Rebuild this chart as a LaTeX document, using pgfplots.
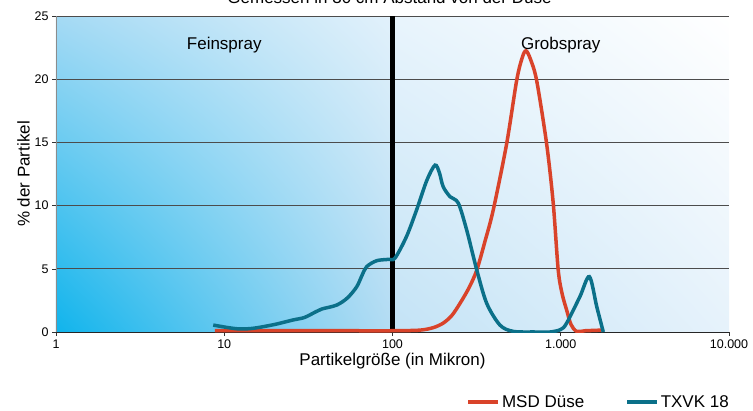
\documentclass[border=0pt]{standalone}
\usepackage{fontspec}
\setmainfont{Liberation Sans}
\usepackage{pgfplots}
\pgfplotsset{compat=1.18}
\usetikzlibrary{calc,shadings}
\definecolor{msdred}{HTML}{D9432A}
\definecolor{txvkblue}{HTML}{0B7089}
\begin{document}
\begin{tikzpicture}
\begin{axis}[
  name=ax, set layers,
  scale only axis, width=673pt, height=316pt,
  xmode=log, xmin=1, xmax=10000, ymin=0, ymax=25,
  xtick={1,10,100,1000,10000},
  xticklabels={1,10,100,{1.000},{10.000}},
  xminorticks=false,
  ytick={0,5,10,15,20,25},
  ymajorgrids, grid style={black!70, line width=0.8pt},
  axis x line*=bottom, axis y line*=left,
  x axis line style={-, black!85, line width=1pt},
  y axis line style={-, black!45, line width=0.6pt},
  tick align=outside, major tick length=4pt,
  tick style={black!80, line width=0.6pt},
  /pgf/number format/assume math mode=true,
  ticklabel style={font=\fontsize{12.5}{14}\selectfont},
  xlabel={Partikelgröße (in Mikron)},
  ylabel={\% der Partikel},
  label style={font=\fontsize{17}{19}\selectfont},
  xlabel style={yshift=2pt},
  ylabel style={yshift=-2pt},
  legend columns=2,
  legend style={draw=none, fill=none, at={(1,0)}, anchor=east, xshift=5pt, yshift=-70pt,
    font=\fontsize{17}{19}\selectfont, /tikz/every even column/.append style={column sep=39pt}},
  legend image code/.code={\draw[#1, line width=3.5pt] (0pt,0pt) -- (30pt,0pt);},
]
\begin{pgfonlayer}{axis background}
\shade[lower left={rgb,255:red,16;green,180;blue,236}, upper left={rgb,255:red,165;green,218;blue,244},
       lower right={rgb,255:red,180;green,220;blue,243}, upper right={rgb,255:red,226;green,241;blue,251}]
  (axis cs:1,0) rectangle (axis cs:100,25);
\shade[lower left={rgb,255:red,195;green,227;blue,246}, upper left={rgb,255:red,232;green,244;blue,252},
       lower right={rgb,255:red,230;green,242;blue,251}, upper right=white]
  (axis cs:100,0) rectangle (axis cs:10000,25);
\end{pgfonlayer}
\addplot[black, line width=5pt, forget plot] coordinates {(100,0) (100,25)};
\addplot[msdred, line width=3.5pt, smooth, tension=0.5] coordinates {
(8.8,0.1) (50,0.1) (100,0.1) (146,0.15) (175,0.35) (200,0.7) (225,1.3) (252,2.27)
(285,3.5) (317,4.9) (355,7.2) (397,9.65) (477,14.9) (547,19.9) (590,21.7) (621,22.25)
(660,21.6) (719,19.9) (824,14.9) (902,10.2) (966,4.9) (1020,3) (1084,1.74) (1150,0.6)
(1242,0.05) (1400,0.1) (1750,0.15)};
\addlegendentry{MSD Düse}
\addplot[txvkblue, line width=3.5pt, smooth, tension=0.5] coordinates {
(8.6,0.55) (10.5,0.35) (12.4,0.24) (15,0.3) (20,0.6) (25.6,0.95) (30,1.15) (35,1.6)
(38,1.82) (46.6,2.13) (54,2.7) (61.3,3.58) (66,4.5) (70.2,5.17) (80.5,5.64) (95,5.75)
(103.5,5.85) (121,7.54) (139,9.65) (160,12) (179,13.2) (190,12.6) (200,11.5) (220,10.7)
(246,10.2) (276,8.07) (317,4.9) (363,2.27) (435,0.55) (521,0.05) (700,0.0) (863,0.0)
(1000,0.2) (1084,0.7) (1300,2.8) (1479,4.38) (1637,2.0) (1790,0.0)};
\addlegendentry{TXVK 18}
\node[font=\fontsize{17}{19}\selectfont] at (axis cs:10,22.7) {Feinspray};
\node[font=\fontsize{17}{19}\selectfont] at (axis cs:1000,22.7) {Grobspray};
\end{axis}
\node[font=\fontsize{17}{19}\selectfont, anchor=base] at ($(ax.north)+(-3pt,12pt)$) {Gemessen in 30 cm Abstand von der Düse};
\pgfresetboundingbox
\path ($(ax.south west)+(-56pt,-78pt)$) rectangle ($(ax.north east)+(24pt,16pt)$);
\end{tikzpicture}
\end{document}
